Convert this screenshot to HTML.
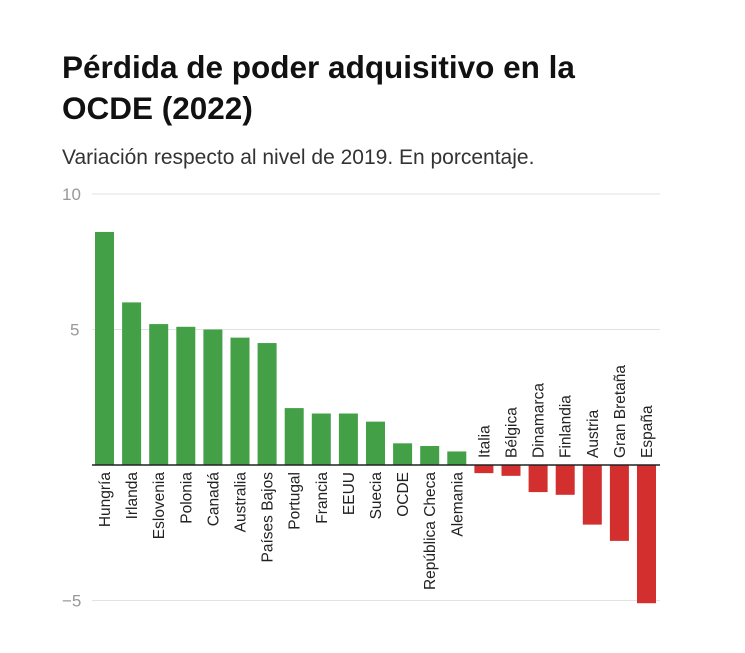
<!DOCTYPE html>
<html><head><meta charset="utf-8"><style>
body{margin:0;background:#fff;width:745px;height:648px;overflow:hidden;font-family:"Liberation Sans",sans-serif}
</style></head><body>
<svg width="745" height="648">
<rect x="0" y="0" width="745" height="648" fill="#fff"/>
<text x="62" y="78" font-size="31.5" font-weight="bold" fill="#111">Pérdida de poder adquisitivo en la</text>
<text x="62" y="119" font-size="31.5" font-weight="bold" fill="#111">OCDE (2022)</text>
<text x="62" y="164" font-size="21" fill="#333">Variación respecto al nivel de 2019. En porcentaje.</text>
<g id="grid"></g><g id="bars"></g><g id="labels"></g>
</svg>
<script>
const categories=["Hungría","Irlanda","Eslovenia","Polonia","Canadá","Australia","Países Bajos","Portugal","Francia","EEUU","Suecia","OCDE","República Checa","Alemania","Italia","Bélgica","Dinamarca","Finlandia","Austria","Gran Bretaña","España"];
const values=[8.6,6.0,5.2,5.1,5.0,4.7,4.5,2.1,1.9,1.9,1.6,0.8,0.7,0.5,-0.3,-0.4,-1.0,-1.1,-2.2,-2.8,-5.1];
const ticks=[10,5,-5];
const NS="http://www.w3.org/2000/svg";
const y=v=>465-v*27.1;
const x=i=>104.5+i*27.1;
function mk(t,a,p){const e=document.createElementNS(NS,t);for(const k in a)e.setAttribute(k,a[k]);p.appendChild(e);return e;}
const g=document.getElementById('grid'),b=document.getElementById('bars'),l=document.getElementById('labels');
ticks.forEach(t=>{
 const ln=mk('line',{x1:92,x2:660,y1:y(t),y2:y(t),stroke:'#e2e2e2','stroke-width':1},g);
 
 
 const tx=mk('text',{x:t<0?62:(t>=10?62:70),y:y(t)+6,'font-size':17,fill:'#999'},g);
 tx.textContent=t<0?'−'+Math.abs(t):t;
 
 
});
values.forEach((v,i)=>{
 const r=mk('rect',{x:x(i)-9.5,width:19,y:Math.min(y(v),465),height:Math.abs(y(v)-465),fill:v>=0?'#43a047':'#d32f2f'},b);
 
 
 const tx=mk('text',{'font-size':15.5,fill:'#222','text-anchor':v>=0?'end':'start',transform:`translate(${x(i)+5.5},${v>=0?472:458}) rotate(-90)`},l);
 tx.textContent=categories[i];
 
 
});
const ax=mk('line',{x1:92,x2:660,y1:465,y2:465,stroke:'#222','stroke-width':1.5},g.parentNode);


</script>
</body></html>
